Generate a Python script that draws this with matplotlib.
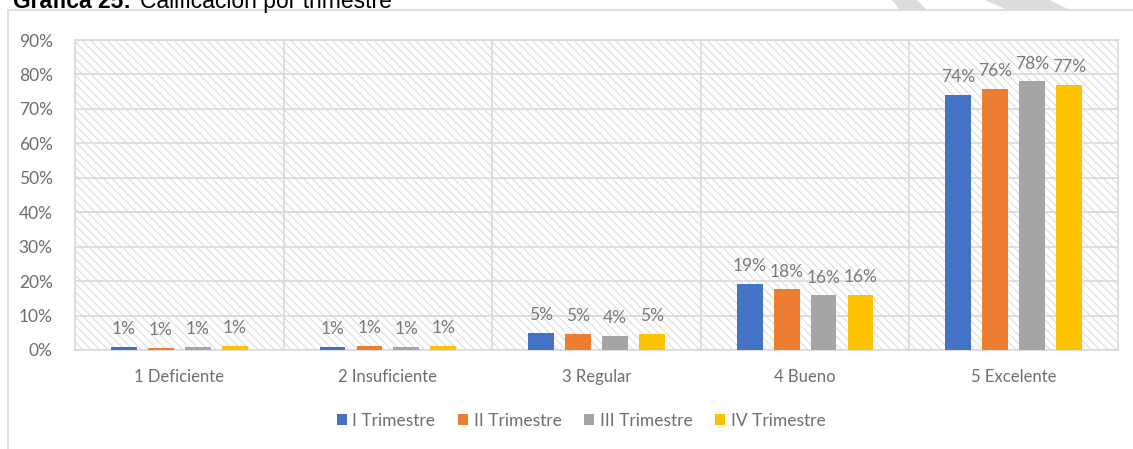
import numpy as np
import matplotlib
matplotlib.use("Agg")
import matplotlib.pyplot as plt
from matplotlib.patches import Polygon
from matplotlib.lines import Line2D

categorias = ["1 Deficiente", "2 Insuficiente", "3 Regular", "4 Bueno", "5 Excelente"]
series = ["I Trimestre", "II Trimestre", "III Trimestre", "IV Trimestre"]
t1 = [1.0, 1.0, 4.9, 19.2, 74.0]
t2 = [0.7, 1.2, 4.6, 17.6, 75.8]
t3 = [1.0, 1.0, 4.2, 15.9, 78.0]
t4 = [1.1, 1.3, 4.7, 16.0, 77.0]
colores = ["#4472C4", "#ED7D31", "#A5A5A5", "#FFC000"]
yticks = [0, 10, 20, 30, 40, 50, 60, 70, 80, 90]

plt.rcParams['font.family'] = ['Lato', 'DejaVu Sans']
plt.rcParams['hatch.color'] = '#dcdcdc'
plt.rcParams['hatch.linewidth'] = 0.8

W, H = 1133, 449
fig = plt.figure(figsize=(W / 100, H / 100), dpi=100)

# marca de agua y marco exterior
fig.patches.append(Polygon([(892 / W, 1), (917 / W, 1), (927 / W, 1 - 10 / H), (900 / W, 1 - 10 / H)],
                           closed=True, transform=fig.transFigure, color='#dcdcdc', lw=0))
fig.patches.append(Polygon([(985 / W, 1), (1050 / W, 1), (1070 / W, 1 - 10 / H), (1008 / W, 1 - 10 / H)],
                           closed=True, transform=fig.transFigure, color='#dcdcdc', lw=0))
fig.lines.append(Line2D([8 / W, 1], [1 - 10 / H, 1 - 10 / H], transform=fig.transFigure,
                        color='#d9d9d9', lw=1.2))
fig.lines.append(Line2D([8 / W, 8 / W], [0, 1 - 10 / H], transform=fig.transFigure,
                        color='#d9d9d9', lw=1.2))

fig.text(13 / W, 1 - 8 / H, "Gráfica 25:", fontsize=16.5, fontweight='bold', family='Liberation Sans',
         va='baseline', ha='left')
fig.text(140 / W, 1 - 8 / H, "Calificación por trimestre", fontsize=16.5, family='Liberation Sans',
         va='baseline', ha='left')

ax = fig.add_axes([75 / W, 1 - 350 / H, (1118 - 75) / W, (350 - 40) / H])
ax.patch.set_facecolor('white')
ax.patch.set_hatch('\\\\\\\\')
ax.patch.set_edgecolor('#dcdcdc')

x = np.arange(len(categorias))
paso = 0.177
ancho = 0.124
datos = [t1, t2, t3, t4]
for i, (vals, col, nom) in enumerate(zip(datos, colores, series)):
    pos = x + (i - 1.5) * paso
    bars = ax.bar(pos, vals, ancho, color=col, label=nom, zorder=3)
    for b, v in zip(bars, vals):
        ax.annotate(f"{round(v):.0f}%", (b.get_x() + b.get_width() / 2, v),
                    xytext=(0, 7), textcoords='offset points', ha='center', va='bottom',
                    fontsize=12.5, color='#7a7a7a')

ax.set_xlim(-0.5, 4.5)
ax.set_ylim(0, 90)
ax.set_yticks(yticks)
ax.set_yticklabels([f"{v}%" for v in yticks])
ax.set_xticks(x)
ax.set_xticklabels(categorias)
ax.set_xticks(np.arange(0.5, 4.5, 1), minor=True)
ax.tick_params(axis='both', which='both', length=0, labelsize=12.5, colors='#6e6e6e')
ax.tick_params(axis='y', pad=16)
ax.tick_params(axis='x', labelsize=12, pad=14)
ax.grid(axis='y', which='major', color='#d9d9d9', lw=1.2, zorder=1)
ax.grid(axis='x', which='minor', color='#d9d9d9', lw=1.2, zorder=1)
ax.set_axisbelow(True)
for s in ax.spines.values():
    s.set_color('#d9d9d9')
    s.set_linewidth(1.2)

fig.legend(loc='center', bbox_to_anchor=(581 / W, 1 - 421 / H), ncol=4, frameon=False,
           handlelength=0.6, handleheight=0.6, handletextpad=0.3, columnspacing=1.3,
           fontsize=12.5, labelcolor='#6e6e6e')

fig.savefig("out.png", dpi=100)
